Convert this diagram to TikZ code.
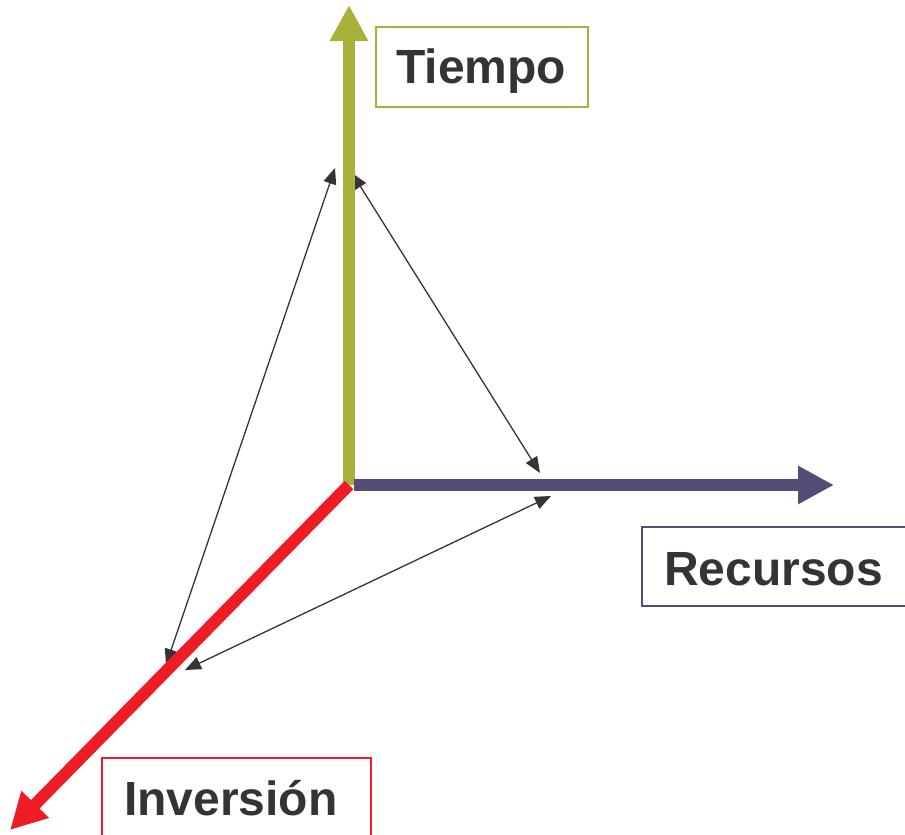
\documentclass[tikz,border=0pt]{standalone}
\usepackage{fontspec}
\setmainfont{Liberation Sans}
\usetikzlibrary{arrows.meta}
\definecolor{tgreen}{HTML}{A9B238}
\definecolor{tpurple}{HTML}{544E76}
\definecolor{tred}{HTML}{EE1D25}
\definecolor{tdark}{HTML}{343338}
\begin{document}
\begin{tikzpicture}[x=1pt,y=-1pt,
  axis/.style={line width=12pt,-{Triangle[length=36pt,width=36pt]}},
  link/.style={draw=tdark,line width=1.3pt,{Triangle[length=16pt,width=13pt]}-{Triangle[length=16pt,width=13pt]}},
  lbl/.style={anchor=base west,inner sep=0pt,text=tdark,font=\fontsize{48}{56}\selectfont\bfseries},
  frame/.style={line width=1.6pt}]
\useasboundingbox (0,0) rectangle (905,835);
% points
\coordinate (O) at (349,485);
\coordinate (T) at (349,5);
\coordinate (R) at (834,485);
\coordinate (I) at (10,830);
\coordinate (a1) at (166,665);
\coordinate (a2) at (335,168);
\coordinate (b1) at (352,173);
\coordinate (b2) at (540,473);
\coordinate (c1) at (551,496);
\coordinate (c2) at (185,670);
% thin double arrows
\draw[link] (a1) -- (a2);
\draw[link] (b1) -- (b2);
\draw[link] (c1) -- (c2);
% axes
\draw[axis,tgreen] (O) -- (T);
\draw[axis,tpurple] ([xshift=5pt]O) -- (R);
\draw[axis,tred] (O) -- (I);
% label boxes
\draw[frame,tgreen] (376,27) rectangle (588,107);
\draw[frame,tpurple] (642,527) rectangle (912,606);
\draw[frame,tred] (102,758) rectangle (371,842);
\node[lbl] (tiempo) at (396,83) {Tiempo};
\node[lbl] (recursos) at (664,585) {Recursos};
\node[lbl] (inversion) at (124,815) {Inversión};
\end{tikzpicture}
\end{document}
